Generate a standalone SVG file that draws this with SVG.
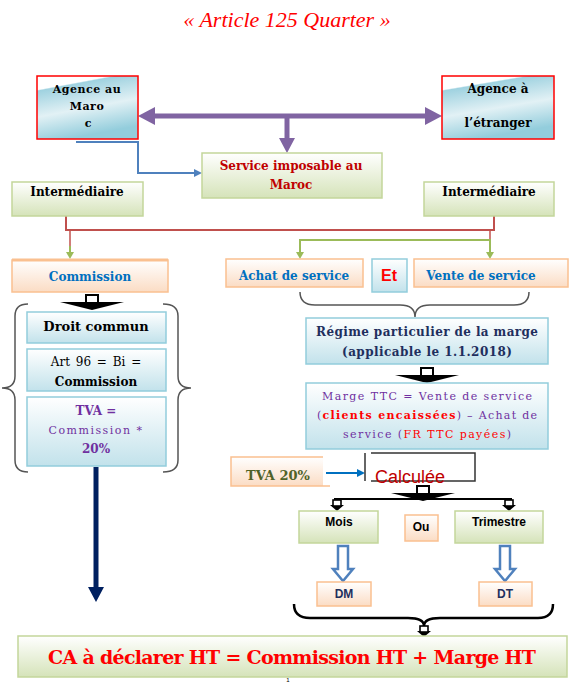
<svg xmlns="http://www.w3.org/2000/svg" width="578" height="682" viewBox="0 0 578 682">
<style>
.sb{font-family:"DejaVu Serif","Liberation Serif",serif;font-weight:bold;font-size:12px;text-anchor:middle}
.sr{font-family:"DejaVu Serif","Liberation Serif",serif;font-size:11px;text-anchor:middle}
.ss{font-family:"Liberation Sans","DejaVu Sans",sans-serif;font-weight:bold;text-anchor:middle}
.blue{fill:url(#gBlue);stroke:#ff0000;stroke-width:1.5}
.lb{fill:url(#gLB);stroke:#92cddc;stroke-width:1.5}
.gr{fill:url(#gGr);stroke:#c3d69b;stroke-width:1.5}
.or{fill:url(#gOr);stroke:#fac090;stroke-width:1.5}
.br{fill:none;stroke:#555;stroke-width:1.5}
</style>
<defs>
<linearGradient id="gBlue" x1="0" y1="0" x2="0.3" y2="1">
<stop offset="0" stop-color="#ffffff"/><stop offset="0.2" stop-color="#ffffff"/><stop offset="0.22" stop-color="#9fd2e0"/><stop offset="0.6" stop-color="#e2f1f5"/><stop offset="1" stop-color="#93cddc"/>
</linearGradient>
<linearGradient id="gLB" x1="0" y1="0" x2="0" y2="1">
<stop offset="0" stop-color="#ffffff"/><stop offset="1" stop-color="#c2e2eb"/>
</linearGradient>
<linearGradient id="gGr" x1="0" y1="0" x2="0" y2="1">
<stop offset="0" stop-color="#ffffff"/><stop offset="1" stop-color="#d5e3b9"/>
</linearGradient>
<linearGradient id="gOr" x1="0" y1="0" x2="0" y2="1">
<stop offset="0" stop-color="#ffffff"/><stop offset="1" stop-color="#fbdcc4"/>
</linearGradient>
<g id="chev">
<polygon points="-32,7 32,7 0,15" fill="#000"/>
<rect x="-6" y="0" width="12" height="8" fill="#fff" stroke="#000" stroke-width="2"/>
</g>
<g id="mini">
<polygon points="-7,5 7,5 0,11" fill="#000"/>
<rect x="-4" y="0" width="8" height="6" fill="#fff" stroke="#000" stroke-width="1.6"/>
</g>
<g id="hollow">
<path d="M-5,0 L5,0 L5,23 L10,23 L0,35 L-10,23 L-5,23 Z" fill="#fff" stroke="#4f81bd" stroke-width="2.5" stroke-linejoin="miter"/>
</g>
</defs>
<rect width="578" height="682" fill="#fff"/>

<text x="287" y="27" font-family="Liberation Serif,serif" font-style="italic" font-size="22" fill="#ff0000" text-anchor="middle">« Article 125 Quarter »</text>

<g id="connectors">
<line x1="152" y1="116" x2="427" y2="116" stroke="#8064a2" stroke-width="5"/>
<polygon points="138,116 155,107 155,125" fill="#8064a2"/>
<polygon points="442,116 425,107 425,125" fill="#8064a2"/>
<line x1="287" y1="116" x2="287" y2="140" stroke="#8064a2" stroke-width="5"/>
<polygon points="279,138 295,138 287,153" fill="#8064a2"/>
<polyline points="76,142 138,142 138,173 196,173" fill="none" stroke="#4f81bd" stroke-width="2"/>
<polygon points="202,173 194,169 194,177" fill="#4f81bd"/>
<polyline points="66,216 66,230 494,230 494,216" fill="none" stroke="#c0504d" stroke-width="2"/>
<line x1="70" y1="230" x2="70" y2="246" stroke="#c0504d" stroke-width="1.5"/>
<line x1="490" y1="230" x2="490" y2="240" stroke="#c0504d" stroke-width="1.5"/>
<line x1="70" y1="246" x2="70" y2="254" stroke="#9bbb59" stroke-width="2"/>
<polygon points="66,252 74,252 70,259" fill="#9bbb59"/>
<polyline points="300,254 300,240 490,240 490,254" fill="none" stroke="#9bbb59" stroke-width="2"/>
<polygon points="296,252 304,252 300,259" fill="#9bbb59"/>
<polygon points="486,252 494,252 490,259" fill="#9bbb59"/>
<use href="#chev" transform="translate(92,295)"/>
<use href="#chev" transform="translate(427,368)"/>
<use href="#chev" transform="translate(423,486)"/>
<line x1="334" y1="499" x2="512" y2="499" stroke="#000" stroke-width="2"/>
<use href="#mini" transform="translate(337,500)"/>
<use href="#mini" transform="translate(509,500)"/>
<path class="br" d="M28,304 Q15,304 15,316 L15,376 Q15,388 2,388 Q15,388 15,400 L15,460 Q15,472 28,472"/>
<path class="br" d="M163,304 Q178,304 178,316 L178,376 Q178,388 191,388 Q178,388 178,400 L178,460 Q178,472 163,472"/>
<path class="br" d="M300,292 Q300,305 315,305 L400,305 Q415,305 415,317 Q415,305 430,305 L514,305 Q529,305 529,292"/>
<path d="M294,604 Q294,618 310,618 L408,618 Q424,618 424,626 Q424,618 440,618 L538,618 Q553,618 553,604" fill="none" stroke="#000" stroke-width="2.5"/>
<use href="#mini" transform="translate(424,626)"/>
<line x1="96" y1="467" x2="96" y2="590" stroke="#002060" stroke-width="5"/>
<polygon points="88,587 104,587 96,602" fill="#002060"/>
<use href="#hollow" transform="translate(343,546)"/>
<use href="#hollow" transform="translate(505,546)"/>
<line x1="326" y1="473" x2="358" y2="473" stroke="#0070c0" stroke-width="2"/>
<polygon points="365,473 357,469 357,477" fill="#0070c0"/>
</g>

<g id="agence-maroc">
<rect class="blue" x="37" y="76" width="101" height="63"/>
<text class="sb" style="font-size:11px" letter-spacing="0.5" x="87" y="93">Agence au</text>
<text class="sb" style="font-size:11px" letter-spacing="0.5" x="87" y="110">Maro</text>
<text class="sb" style="font-size:11px" x="88" y="127">c</text>
</g>
<g id="agence-etranger">
<rect class="blue" x="442" y="76" width="112" height="63"/>
<text class="sb" x="498" y="93">Agence à</text>
<text class="sb" x="498" y="127">l’étranger</text>
</g>
<g id="service">
<rect class="gr" x="202" y="153" width="180" height="45"/>
<text class="sb" x="291" y="170" fill="#c00000">Service imposable au</text>
<text class="sb" x="291" y="189" fill="#c00000">Maroc</text>
</g>
<g id="inter-left">
<rect class="gr" x="12" y="182" width="131" height="34"/>
<text class="sb" x="77" y="196">Intermédiaire</text>
</g>
<g id="inter-right">
<rect class="gr" x="424" y="182" width="130" height="34"/>
<text class="sb" x="489" y="196">Intermédiaire</text>
</g>
<g id="commission">
<rect class="or" x="12" y="260" width="156" height="32"/>
<line x1="12" y1="260" x2="168" y2="260" stroke="#fac090" stroke-width="3"/>
<text class="sb" x="90" y="281" fill="#0070c0">Commission</text>
</g>
<g id="achat">
<rect class="or" x="226" y="259" width="137" height="28"/>
<text class="sb" x="294" y="280" fill="#0070c0">Achat de service</text>
</g>
<g id="et">
<rect class="lb" x="372" y="259" width="35" height="33"/>
<text class="ss" x="389" y="281" font-size="16" fill="#ff0000">Et</text>
</g>
<g id="vente">
<rect class="or" x="414" y="259" width="154" height="28"/>
<text class="sb" x="481" y="280" fill="#0070c0">Vente de service</text>
</g>
<g id="droit">
<rect class="lb" x="27" y="312" width="139" height="31"/>
<text class="sb" x="96" y="331" style="font-size:13px">Droit commun</text>
</g>
<g id="art96">
<rect class="lb" x="27" y="349" width="139" height="42"/>
<text class="sr" x="96" y="366" style="font-size:12px" word-spacing="2">Art 96 = Bi =</text>
<text class="sb" x="96" y="386">Commission</text>
</g>
<g id="tva-com">
<rect class="lb" x="27" y="397" width="139" height="69"/>
<text class="sb" x="96" y="415" fill="#7030a0">TVA =</text>
<text class="sr" x="96" y="434" fill="#7030a0" letter-spacing="1.5">Commission *</text>
<text class="sb" x="96" y="453" fill="#7030a0">20%</text>
</g>
<g id="regime">
<rect class="lb" x="306" y="318" width="242" height="46"/>
<text class="sb" x="427" y="336" fill="#1f2f5e" textLength="222">Régime particulier de la marge</text>
<text class="sb" x="427" y="356" fill="#1f2f5e" textLength="170">(applicable le 1.1.2018)</text>
</g>
<g id="marge">
<rect class="lb" x="306" y="383" width="242" height="66"/>
<text class="sr" x="427" y="400" fill="#7030a0" textLength="210">Marge TTC = Vente de service</text>
<text class="sr" x="427" y="419" fill="#7030a0" textLength="220">(<tspan fill="#ff0000" font-weight="bold">clients encaissées</tspan>) – Achat de</text>
<text class="sr" x="427" y="438" fill="#7030a0" textLength="168">service (<tspan fill="#ff0000">FR TTC payées</tspan>)</text>
</g>
<g id="tva20">
<rect x="231" y="457" width="92" height="29" fill="url(#gOr)"/>
<polyline points="323,457 231,457 231,486 330,486" fill="none" stroke="#fac090" stroke-width="1.5"/>
<text class="sb" x="278" y="480" fill="#4f6228" style="font-size:13px">TVA 20%</text>
</g>
<g id="calculee">
<polyline points="371,453 475,453 475,481 371,481" fill="none" stroke="#333" stroke-width="1.5"/>
<line x1="365" y1="453" x2="365" y2="481" stroke="#333" stroke-width="1.5"/>
<text x="410" y="483" font-family="Liberation Sans,sans-serif" font-size="18" fill="#c00000" text-anchor="middle">Calculée</text>
</g>
<g id="mois">
<rect class="gr" x="299" y="511" width="79" height="32"/>
<text class="ss" x="339" y="526" font-size="12">Mois</text>
</g>
<g id="ou">
<rect class="or" x="405" y="515" width="33" height="26"/>
<text class="ss" x="421" y="531" font-size="12">Ou</text>
</g>
<g id="trimestre">
<rect class="gr" x="455" y="511" width="88" height="32"/>
<text class="ss" x="499" y="526" font-size="12">Trimestre</text>
</g>
<g id="dm">
<rect class="or" x="317" y="582" width="54" height="24"/>
<text class="ss" x="344" y="598" font-size="12" fill="#1f2f5e">DM</text>
</g>
<g id="dt">
<rect class="or" x="479" y="582" width="53" height="24"/>
<text class="ss" x="505" y="598" font-size="12" fill="#1f2f5e">DT</text>
</g>
<g id="ca">
<rect class="gr" x="18" y="636" width="549" height="41"/>
<text class="sb" x="292" y="664" style="font-size:19px" fill="#ff0000" textLength="488">CA à déclarer HT = Commission HT + Marge HT</text>
</g>
<text x="288" y="682" font-family="Liberation Sans,sans-serif" font-size="6" fill="#000" text-anchor="middle">1</text>
</svg>
